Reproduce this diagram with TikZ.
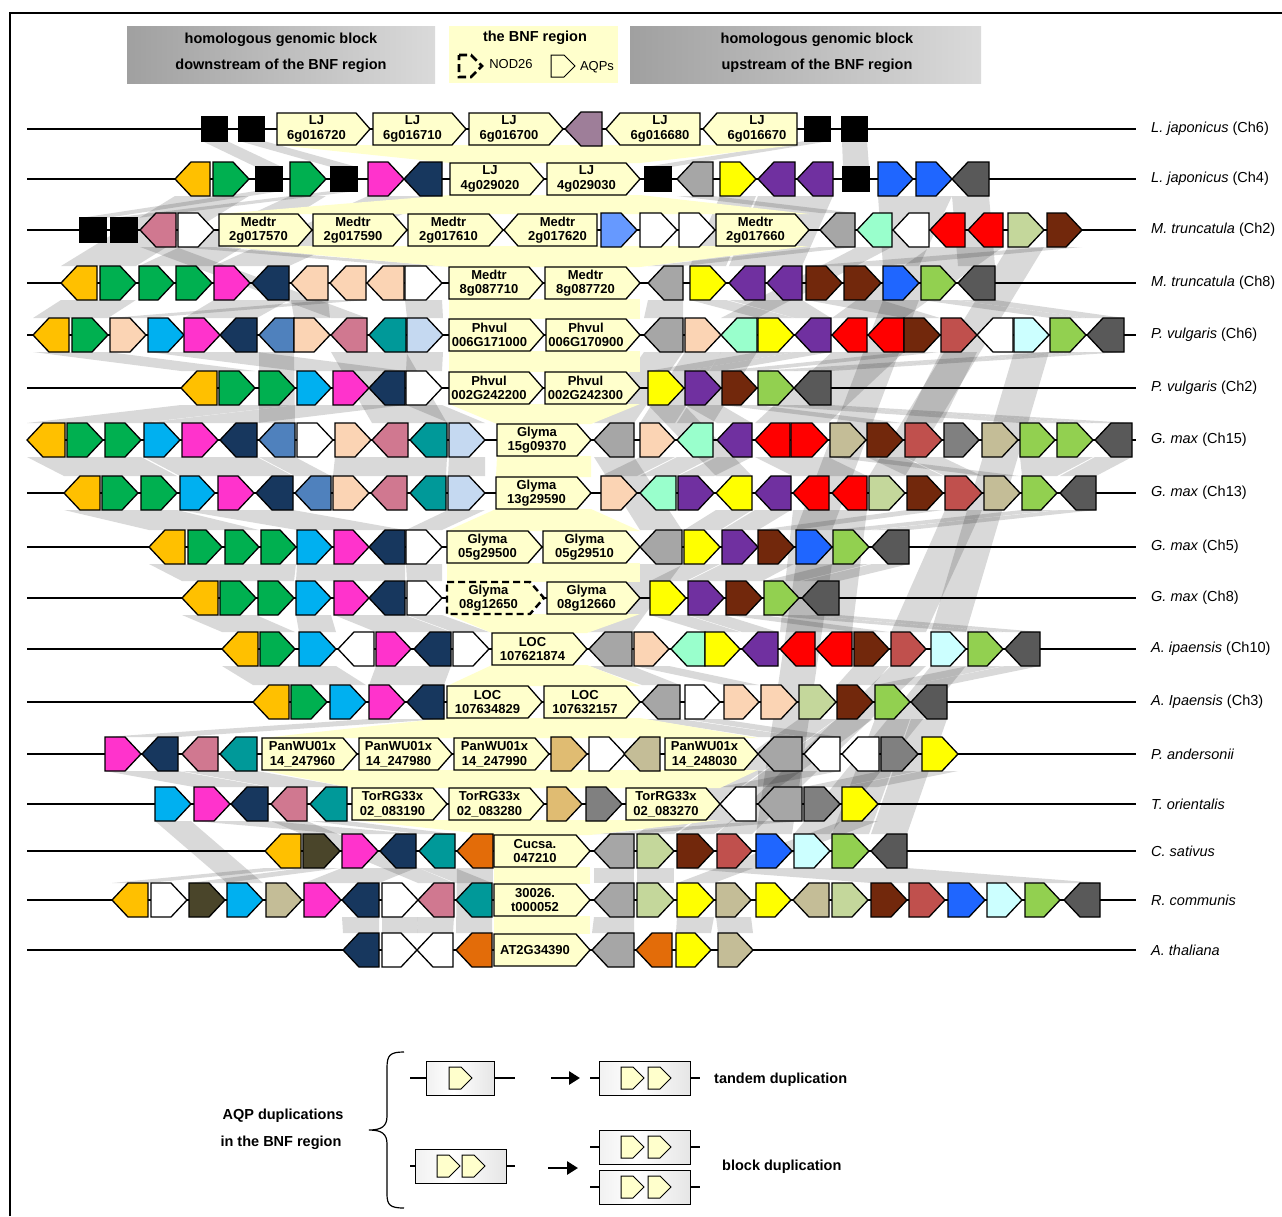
\documentclass[tikz,border=0pt]{standalone}
\usepackage{fontspec}
\setmainfont{Liberation Sans}
\usetikzlibrary{arrows.meta}
\definecolor{cOr}{HTML}{FFC000}
\definecolor{cGr}{HTML}{00B050}
\definecolor{cMg}{HTML}{FF33CC}
\definecolor{cNv}{HTML}{17375E}
\definecolor{cMv}{HTML}{9E7E99}
\definecolor{cGy}{HTML}{A6A6A6}
\definecolor{cYe}{HTML}{FFFF00}
\definecolor{cPu}{HTML}{7030A0}
\definecolor{cBl}{HTML}{1F66FF}
\definecolor{cDg}{HTML}{595959}
\definecolor{cPk}{HTML}{D07890}
\definecolor{cCb}{HTML}{6699FF}
\definecolor{cAq}{HTML}{99FFCC}
\definecolor{cRd}{HTML}{FF0000}
\definecolor{cOl}{HTML}{C4D79B}
\definecolor{cBr}{HTML}{72280C}
\definecolor{cPe}{HTML}{FBD4B4}
\definecolor{cLg}{HTML}{92D050}
\definecolor{cSk}{HTML}{00B0F0}
\definecolor{cSt}{HTML}{4F81BD}
\definecolor{cTe}{HTML}{009999}
\definecolor{cLb}{HTML}{C5D9F1}
\definecolor{cIr}{HTML}{C0504D}
\definecolor{cLc}{HTML}{CCFFFF}
\definecolor{cTa}{HTML}{C4BD97}
\definecolor{cGt}{HTML}{808080}
\definecolor{cSa}{HTML}{E0BC72}
\definecolor{cDo}{HTML}{4A452A}
\definecolor{cOt}{HTML}{E36C09}
\definecolor{bnf}{HTML}{FFFFCC}
\definecolor{hdrL}{HTML}{A0A0A0}
\definecolor{hdrR}{HTML}{DADADA}
\pgfdeclarehorizontalshading{cyl}{100bp}{color(0bp)=(gray!95); color(6bp)=(gray!70); color(18bp)=(gray!15); color(45bp)=(white); color(75bp)=(gray!20); color(88bp)=(gray!75); color(100bp)=(gray!95)}
\tikzset{
  gene/.style={draw=black, line width=1.3pt, line join=miter},
  chrom/.style={line width=2pt},
  band/.style={fill=black, fill opacity=0.15},
  labtxt/.style={font=\fontsize{13}{14.5}\selectfont\bfseries, align=center, inner sep=0pt},
  species/.style={anchor=west, font=\fontsize{14.5}{17}\selectfont, inner sep=0pt},
  hdr/.style={font=\fontsize{14.5}{17}\selectfont\bfseries, inner sep=0pt},
  smalltxt/.style={font=\fontsize{13}{15}\selectfont, inner sep=0pt},
  dupline/.style={line width=1.2pt},
  duparrow/.style={-{Triangle[length=11pt,width=13pt]}, line width=2.8pt}
}
\newcommand\geneR[3]{\draw[gene,fill=#3] (#1,\Y-17) -- (#2-16,\Y-17) -- (#2,\Y) -- (#2-16,\Y+17) -- (#1,\Y+17) -- cycle;}
\newcommand\geneL[3]{\draw[gene,fill=#3] (#2,\Y-17) -- (#1+16,\Y-17) -- (#1,\Y) -- (#1+16,\Y+17) -- (#2,\Y+17) -- cycle;}
\newcommand\blk[2]{\draw[gene,fill=black] (#1,\Y-12) rectangle (#2,\Y+12);}
\newcommand\labR[4]{\draw[gene,fill=bnf] (#1,\Y-16) -- (#2-14,\Y-16) -- (#2,\Y) -- (#2-14,\Y+16) -- (#1,\Y+16) -- cycle; \node[labtxt] (#3) at ({(#1+#2-14)/2},\Y) {#4};}
\newcommand\labL[4]{\draw[gene,fill=bnf] (#2,\Y-16) -- (#1+14,\Y-16) -- (#1,\Y) -- (#1+14,\Y+16) -- (#2,\Y+16) -- cycle; \node[labtxt] (#3) at ({(#1+14+#2)/2},\Y) {#4};}
\newcommand\labD[4]{\fill[bnf] (#1,\Y-16) -- (#2-14,\Y-16) -- (#2,\Y) -- (#2-14,\Y+16) -- (#1,\Y+16) -- cycle; \draw[line width=2.4pt, dash pattern=on 7pt off 4pt] (#1,\Y-16) -- (#2-14,\Y-16) -- (#2,\Y) -- (#2-14,\Y+16) -- (#1,\Y+16) -- cycle; \node[labtxt] (#3) at ({(#1+#2-14)/2},\Y) {#4};}
\newcommand\chromo[2]{\draw[chrom] (27,\Y) -- (1136,\Y); \node[species] (#1) at (1151,\Y) {#2};}
\newcommand\bandG[6]{\fill[band] (#2,#1+17) -- (#3,#1+17) -- (#6,#4-17) -- (#5,#4-17) -- cycle;}
\newcommand\bandY[6]{\fill[bnf] (#2,#1+16) -- (#3,#1+16) -- (#6,#4-16) -- (#5,#4-16) -- cycle;}
\newcommand\dupbox[3]{\shade[shading=cyl] (#1,#3-17) rectangle (#2,#3+17); \draw[line width=0.8pt] (#1,#3-17) rectangle (#2,#3+17);}
\newcommand\aqpicon[2]{\draw[line width=1pt, fill=bnf] (#1,#2-11) -- (#1+12,#2-11) -- (#1+23,#2) -- (#1+12,#2+11) -- (#1,#2+11) -- cycle;}
\begin{document}
\begin{tikzpicture}[x=1pt,y=-1pt]
\useasboundingbox (0,0) rectangle (1282,1216);
\fill[white] (0,0) rectangle (1282,1216);
% ---------------- grey synteny bands ----------------
\bandG{124}{202}{227}{184}{256}{282}
\bandG{124}{239}{264}{184}{331}{357}
\bandG{124}{805}{830}{184}{645}{671}
\bandG{124}{842}{867}{184}{843}{869}
\bandG{174}{256}{282}{235}{80}{106}
\bandG{174}{331}{357}{235}{111}{137}
\bandG{179}{677}{713}{230}{820}{855}
\bandG{179}{175}{249}{283}{61}{136}
\bandG{179}{290}{326}{283}{139}{212}
\bandG{179}{368}{442}{283}{214}{289}
\bandG{179}{720}{756}{283}{690}{726}
\bandG{179}{758}{833}{283}{729}{802}
\bandG{179}{878}{952}{283}{883}{919}
\bandG{179}{952}{989}{283}{958}{995}
\bandG{230}{178}{214}{283}{405}{442}
\bandG{230}{820}{855}{283}{648}{683}
\bandG{230}{1047}{1082}{283}{806}{881}
\bandG{230}{140}{176}{335}{331}{367}
\bandG{230}{857}{892}{335}{721}{757}
\bandG{230}{930}{1003}{335}{832}{904}
\bandG{230}{1008}{1044}{493}{869}{905}
\bandG{283}{61}{136}{335}{33}{108}
\bandG{283}{214}{289}{335}{184}{257}
\bandG{283}{291}{328}{335}{294}{330}
\bandG{283}{330}{366}{335}{110}{146}
\bandG{283}{405}{442}{335}{407}{443}
\bandG{283}{648}{683}{335}{644}{683}
\bandG{283}{690}{726}{335}{758}{794}
\bandG{283}{729}{802}{335}{795}{831}
\bandG{283}{806}{881}{335}{904}{940}
\bandG{283}{921}{956}{335}{1050}{1086}
\bandG{283}{958}{995}{335}{1087}{1124}
\bandG{283}{883}{919}{547}{796}{832}
\bandG{335}{33}{108}{388}{181}{255}
\bandG{335}{148}{257}{388}{297}{405}
\bandG{335}{407}{443}{388}{406}{442}
\bandG{335}{758}{794}{388}{648}{684}
\bandG{335}{795}{831}{388}{685}{721}
\bandG{335}{904}{940}{388}{722}{757}
\bandG{335}{1050}{1086}{388}{758}{794}
\bandG{335}{1087}{1124}{388}{794}{831}
\bandG{335}{259}{294}{440}{259}{295}
\bandG{335}{331}{406}{440}{372}{447}
\bandG{335}{644}{683}{440}{594}{634}
\bandG{335}{685}{721}{440}{640}{675}
\bandG{335}{721}{757}{440}{677}{713}
\bandG{335}{832}{904}{440}{755}{828}
\bandG{335}{941}{977}{440}{905}{942}
\bandG{335}{1014}{1049}{649}{931}{966}
\bandG{388}{181}{295}{440}{27}{141}
\bandG{388}{297}{405}{440}{144}{257}
\bandG{388}{406}{442}{440}{449}{485}
\bandG{388}{685}{721}{440}{717}{752}
\bandG{388}{722}{757}{440}{867}{903}
\bandG{388}{758}{794}{440}{1020}{1093}
\bandG{388}{794}{831}{440}{1095}{1132}
\bandG{388}{648}{684}{493}{716}{752}
\bandG{440}{27}{141}{493}{64}{177}
\bandG{440}{144}{257}{493}{180}{293}
\bandG{440}{259}{295}{493}{295}{331}
\bandG{440}{335}{447}{493}{333}{446}
\bandG{440}{449}{485}{493}{448}{485}
\bandG{440}{640}{675}{493}{601}{637}
\bandG{440}{677}{713}{493}{640}{676}
\bandG{440}{717}{752}{493}{678}{714}
\bandG{440}{755}{828}{493}{793}{867}
\bandG{440}{830}{866}{493}{984}{1020}
\bandG{440}{867}{903}{493}{907}{943}
\bandG{440}{905}{942}{493}{945}{982}
\bandG{440}{1020}{1093}{493}{1022}{1057}
\bandG{440}{1095}{1132}{493}{1060}{1096}
\bandG{440}{594}{634}{547}{640}{682}
\bandG{493}{64}{177}{547}{149}{259}
\bandG{493}{180}{293}{547}{297}{405}
\bandG{493}{448}{485}{547}{406}{442}
\bandG{493}{716}{752}{547}{684}{720}
\bandG{493}{755}{791}{547}{722}{758}
\bandG{493}{907}{943}{547}{758}{794}
\bandG{493}{1022}{1057}{547}{833}{869}
\bandG{493}{1060}{1096}{547}{872}{909}
\bandG{493}{793}{867}{649}{780}{852}
\bandG{493}{945}{982}{649}{891}{926}
\bandG{547}{149}{296}{598}{182}{294}
\bandG{547}{297}{405}{598}{296}{405}
\bandG{547}{406}{442}{598}{407}{442}
\bandG{547}{684}{720}{598}{650}{686}
\bandG{547}{722}{794}{598}{688}{762}
\bandG{547}{833}{869}{598}{764}{799}
\bandG{547}{872}{909}{598}{802}{839}
\bandG{547}{640}{682}{649}{589}{632}
\bandG{547}{796}{832}{851}{756}{792}
\bandG{598}{182}{256}{649}{222}{295}
\bandG{598}{296}{331}{649}{299}{336}
\bandG{598}{334}{405}{649}{376}{451}
\bandG{598}{407}{442}{649}{453}{489}
\bandG{598}{650}{686}{649}{705}{740}
\bandG{598}{688}{724}{649}{742}{778}
\bandG{598}{726}{762}{649}{854}{889}
\bandG{598}{764}{799}{649}{968}{1003}
\bandG{598}{802}{839}{649}{1005}{1040}
\bandG{649}{222}{336}{702}{253}{366}
\bandG{649}{376}{451}{702}{369}{444}
\bandG{649}{589}{632}{702}{642}{680}
\bandG{649}{634}{669}{702}{724}{759}
\bandG{649}{854}{889}{702}{837}{873}
\bandG{649}{968}{1003}{702}{875}{910}
\bandG{649}{1005}{1040}{702}{911}{947}
\bandG{649}{891}{926}{851}{717}{752}
\bandG{649}{931}{966}{851}{794}{830}
\bandG{702}{369}{444}{754}{105}{178}
\bandG{702}{642}{680}{754}{758}{802}
\bandG{702}{685}{720}{754}{804}{840}
\bandG{702}{799}{836}{851}{637}{674}
\bandG{702}{837}{873}{851}{677}{714}
\bandG{702}{875}{910}{851}{832}{869}
\bandG{702}{911}{947}{851}{871}{907}
\bandG{754}{105}{178}{804}{194}{268}
\bandG{754}{182}{257}{804}{271}{347}
\bandG{754}{551}{587}{804}{547}{582}
\bandG{754}{758}{802}{804}{758}{802}
\bandG{754}{804}{840}{804}{720}{756}
\bandG{754}{881}{918}{804}{804}{840}
\bandG{754}{922}{958}{804}{842}{878}
\bandG{804}{194}{268}{851}{342}{416}
\bandG{804}{310}{347}{851}{419}{455}
\bandG{804}{758}{802}{851}{594}{634}
\bandG{804}{155}{191}{900}{227}{263}
\bandG{804}{842}{878}{900}{677}{714}
\bandG{804}{271}{307}{900}{418}{454}
\bandG{851}{265}{301}{900}{112}{148}
\bandG{851}{303}{340}{900}{189}{225}
\bandG{851}{342}{416}{900}{304}{379}
\bandG{851}{419}{455}{900}{456}{492}
\bandG{851}{594}{634}{900}{594}{634}
\bandG{851}{637}{674}{900}{637}{674}
\bandG{851}{677}{907}{900}{871}{1100}
\bandG{851}{457}{493}{950}{456}{492}
\bandG{900}{342}{379}{950}{343}{379}
\bandG{900}{382}{418}{950}{382}{417}
\bandG{900}{418}{454}{950}{417}{453}
\bandG{900}{594}{634}{950}{592}{634}
\bandG{900}{677}{714}{950}{676}{711}
\bandG{900}{716}{751}{950}{718}{753}
% ---------------- BNF region ----------------
\bandY{129}{277}{797}{179}{450}{640}
\bandY{179}{450}{640}{230}{219}{809}
\bandY{230}{219}{809}{283}{449}{640}
\bandY{283}{449}{640}{335}{449}{640}
\bandY{335}{449}{640}{388}{449}{640}
\bandY{388}{449}{640}{440}{497}{591}
\bandY{440}{497}{591}{493}{496}{591}
\bandY{493}{496}{591}{547}{447}{640}
\bandY{547}{447}{640}{598}{447}{640}
\bandY{598}{447}{640}{649}{492}{587}
\bandY{649}{492}{587}{702}{447}{640}
\bandY{702}{447}{640}{754}{262}{758}
\bandY{754}{262}{758}{804}{352}{720}
\bandY{804}{352}{720}{851}{494}{590}
\bandY{851}{494}{590}{900}{494}{590}
\bandY{900}{494}{590}{950}{494}{590}
% ---------------- frame ----------------
\draw[line width=1.3pt] (10,1216) -- (10,13) -- (1282,13);
% ---------------- header ----------------
\shade[left color=hdrL, right color=hdrR] (127,26) rectangle (435,83);
\node[hdr] (h1) at (281,40) {homologous genomic block};
\node[hdr] (h2) at (281,66) {downstream of the BNF region};
\fill[bnf] (449,26) rectangle (618,83);
\node[hdr] (h3) at (535,38) {the BNF region};
\draw[line width=2.6pt, dash pattern=on 8pt off 4pt] (459,55) -- (471,55) -- (482,66) -- (471,77) -- (459,77) -- cycle;
\node[smalltxt] (h4) at (511,64) {NOD26};
\draw[line width=1pt] (551,55) -- (564,55) -- (575,66) -- (564,77) -- (551,77) -- cycle;
\node[smalltxt] (h5) at (597,67) {AQPs};
\shade[left color=hdrL, right color=hdrR] (630,26) rectangle (981,83);
\node[hdr] (h6) at (817,40) {homologous genomic block};
\node[hdr] (h7) at (817,66) {upstream of the BNF region};
% ---------------- rows ----------------
\def\Y{129}
\chromo{sp1}{\textit{L. japonicus} (Ch6)}
\blk{202}{227}\blk{239}{264}
\labR{277}{370}{g1a}{LJ\\6g016720}
\labR{373}{466}{g1b}{LJ\\6g016710}
\labR{469}{563}{g1c}{LJ\\6g016700}
\geneL{565}{602}{cMv}
\labL{606}{700}{g1d}{LJ\\6g016680}
\labL{703}{797}{g1e}{LJ\\6g016670}
\blk{805}{830}\blk{842}{867}
\def\Y{179}
\chromo{sp2}{\textit{L. japonicus} (Ch4)}
\geneL{175}{210}{cOr}\geneR{213}{249}{cGr}\blk{256}{282}\geneR{290}{326}{cGr}\blk{331}{357}\geneR{368}{404}{cMg}\geneL{404}{442}{cNv}
\labR{450}{544}{g2a}{LJ\\4g029020}
\labR{547}{640}{g2b}{LJ\\4g029030}
\blk{645}{671}\geneL{677}{713}{cGy}\geneR{720}{756}{cYe}\geneL{758}{795}{cPu}\geneL{797}{833}{cPu}\blk{843}{869}\geneR{878}{913}{cBl}\geneR{916}{952}{cBl}\geneL{952}{989}{cDg}
\def\Y{230}
\chromo{sp3}{\textit{M. truncatula} (Ch2)}
\blk{80}{106}\blk{111}{137}\geneL{140}{176}{cPk}\geneR{178}{214}{white}
\labR{219}{312}{g3a}{Medtr\\2g017570}
\labR{313}{407}{g3b}{Medtr\\2g017590}
\labR{408}{503}{g3c}{Medtr\\2g017610}
\labL{504}{597}{g3d}{Medtr\\2g017620}
\geneR{601}{637}{cCb}\geneR{640}{677}{white}\geneR{679}{715}{white}
\labR{716}{809}{g3e}{Medtr\\2g017660}
\geneL{820}{855}{cGy}\geneL{857}{892}{cAq}\geneL{893}{929}{white}\geneL{930}{965}{cRd}\geneL{968}{1003}{cRd}\geneR{1008}{1044}{cOl}\geneR{1047}{1082}{cBr}
\def\Y{283}
\chromo{sp4}{\textit{M. truncatula} (Ch8)}
\geneL{61}{97}{cOr}\geneR{100}{136}{cGr}\geneR{139}{174}{cGr}\geneR{176}{212}{cGr}\geneR{214}{250}{cMg}\geneL{252}{289}{cNv}\geneL{291}{328}{cPe}\geneL{330}{366}{cPe}\geneL{367}{404}{cPe}\geneR{405}{442}{white}
\labR{449}{543}{g4a}{Medtr\\8g087710}
\labR{545}{640}{g4b}{Medtr\\8g087720}
\geneL{648}{683}{cGy}\geneR{690}{726}{cYe}\geneL{729}{765}{cPu}\geneL{767}{802}{cPu}\geneR{806}{842}{cBr}\geneR{844}{881}{cBr}\geneR{883}{919}{cBl}\geneR{921}{956}{cLg}\geneL{958}{995}{cDg}
\def\Y{335}
\chromo{sp5}{\textit{P. vulgaris} (Ch6)}
\geneL{33}{69}{cOr}\geneR{72}{108}{cGr}\geneR{110}{146}{cPe}\geneR{148}{184}{cSk}\geneR{184}{220}{cMg}\geneL{220}{257}{cNv}\geneL{259}{294}{cSt}\geneR{294}{330}{cPe}\geneL{331}{367}{cPk}\geneL{369}{406}{cTe}\geneR{407}{443}{cLb}
\labR{449}{544}{g5a}{Phvul\\006G171000}
\labR{546}{640}{g5b}{Phvul\\006G170900}
\geneL{644}{683}{cGy}\geneR{685}{721}{cPe}\geneL{721}{757}{cAq}\geneR{758}{794}{cYe}\geneL{795}{831}{cPu}\geneL{832}{867}{cRd}\geneL{868}{904}{cRd}\geneR{904}{940}{cBr}\geneR{941}{977}{cIr}\geneL{977}{1013}{white}\geneR{1014}{1049}{cLc}\geneR{1050}{1086}{cLg}\geneL{1087}{1124}{cDg}
\def\Y{388}
\chromo{sp6}{\textit{P. vulgaris} (Ch2)}
\geneL{181}{217}{cOr}\geneR{219}{255}{cGr}\geneR{259}{295}{cGr}\geneR{297}{331}{cSk}\geneR{333}{369}{cMg}\geneL{369}{405}{cNv}\geneR{406}{442}{white}
\labR{449}{543}{g6a}{Phvul\\002G242200}
\labR{545}{640}{g6b}{Phvul\\002G242300}
\geneR{648}{684}{cYe}\geneR{685}{721}{cPu}\geneR{722}{757}{cBr}\geneR{758}{794}{cLg}\geneL{794}{831}{cDg}
\def\Y{440}
\chromo{sp7}{\textit{G. max} (Ch15)}
\geneL{27}{65}{cOr}\geneR{67}{103}{cGr}\geneR{105}{141}{cGr}\geneR{144}{180}{cSk}\geneR{182}{218}{cMg}\geneL{220}{257}{cNv}\geneL{259}{295}{cSt}\geneR{297}{333}{white}\geneR{335}{371}{cPe}\geneL{372}{408}{cPk}\geneL{410}{447}{cTe}\geneR{449}{485}{cLb}
\labR{497}{591}{g7a}{Glyma\\15g09370}
\geneL{594}{634}{cGy}\geneR{640}{675}{cPe}\geneL{677}{713}{cAq}\geneL{717}{752}{cPu}\geneL{755}{790}{cRd}\geneR{791}{828}{cRd}\geneR{830}{866}{cTa}\geneR{867}{903}{cBr}\geneR{905}{942}{cIr}\geneR{944}{979}{cGt}\geneR{982}{1018}{cTa}\geneR{1020}{1055}{cLg}\geneR{1057}{1093}{cLg}\geneL{1095}{1132}{cDg}
\def\Y{493}
\chromo{sp8}{\textit{G. max} (Ch13)}
\geneL{64}{100}{cOr}\geneR{102}{138}{cGr}\geneR{141}{177}{cGr}\geneR{180}{215}{cSk}\geneR{218}{254}{cMg}\geneL{256}{293}{cNv}\geneL{295}{331}{cSt}\geneR{333}{369}{cPe}\geneL{371}{407}{cPk}\geneL{410}{446}{cTe}\geneR{448}{485}{cLb}
\labR{496}{591}{g8a}{Glyma\\13g29590}
\geneR{601}{637}{cPe}\geneL{640}{676}{cAq}\geneR{678}{714}{cPu}\geneL{716}{752}{cYe}\geneL{755}{791}{cPu}\geneL{793}{829}{cRd}\geneL{832}{867}{cRd}\geneR{869}{905}{cOl}\geneR{907}{943}{cBr}\geneR{945}{982}{cIr}\geneR{984}{1020}{cTa}\geneR{1022}{1057}{cLg}\geneL{1060}{1096}{cDg}
\def\Y{547}
\chromo{sp9}{\textit{G. max} (Ch5)}
\geneL{149}{185}{cOr}\geneR{188}{222}{cGr}\geneR{225}{259}{cGr}\geneR{261}{296}{cGr}\geneR{297}{332}{cSk}\geneR{334}{369}{cMg}\geneL{369}{405}{cNv}\geneR{406}{442}{white}
\labR{447}{542}{g9a}{Glyma\\05g29500}
\labR{543}{640}{g9b}{Glyma\\05g29510}
\geneL{640}{682}{cGy}\geneR{684}{720}{cYe}\geneR{722}{758}{cPu}\geneR{758}{794}{cBr}\geneR{796}{832}{cBl}\geneR{833}{869}{cLg}\geneL{872}{909}{cDg}
\def\Y{598}
\chromo{sp10}{\textit{G. max} (Ch8)}
\geneL{182}{218}{cOr}\geneR{220}{256}{cGr}\geneR{258}{294}{cGr}\geneR{296}{331}{cSk}\geneR{334}{369}{cMg}\geneL{369}{405}{cNv}\geneR{407}{442}{white}
\labD{447}{544}{g10a}{Glyma\\08g12650}
\labR{547}{640}{g10b}{Glyma\\08g12660}
\geneR{650}{686}{cYe}\geneR{688}{724}{cPu}\geneR{726}{762}{cBr}\geneR{764}{799}{cLg}\geneL{802}{839}{cDg}
\def\Y{649}
\chromo{sp11}{\textit{A. ipaensis} (Ch10)}
\geneL{222}{258}{cOr}\geneR{260}{295}{cGr}\geneR{299}{336}{cSk}\geneL{338}{374}{white}\geneR{376}{411}{cMg}\geneL{414}{451}{cNv}\geneR{453}{489}{white}
\labR{492}{587}{g11a}{LOC\\107621874}
\geneL{589}{632}{cGy}\geneR{634}{669}{cPe}\geneL{671}{705}{cAq}\geneR{705}{740}{cYe}\geneL{742}{778}{cPu}\geneL{780}{815}{cRd}\geneL{816}{852}{cRd}\geneR{854}{889}{cBr}\geneR{891}{926}{cIr}\geneR{931}{966}{cLc}\geneR{968}{1003}{cLg}\geneL{1005}{1040}{cDg}
\def\Y{702}
\chromo{sp12}{\textit{A. Ipaensis} (Ch3)}
\geneL{253}{289}{cOr}\geneR{291}{327}{cGr}\geneR{330}{366}{cSk}\geneR{369}{405}{cMg}\geneL{407}{444}{cNv}
\labR{447}{542}{g12a}{LOC\\107634829}
\labR{544}{640}{g12b}{LOC\\107632157}
\geneL{642}{680}{cGy}\geneR{685}{720}{white}\geneR{724}{759}{cPe}\geneR{761}{797}{cPe}\geneR{799}{836}{cOl}\geneR{837}{873}{cBr}\geneR{875}{910}{cLg}\geneL{911}{947}{cDg}
\def\Y{754}
\chromo{sp13}{\textit{P. andersonii}}
\geneR{105}{141}{cMg}\geneL{142}{178}{cNv}\geneL{182}{218}{cPk}\geneL{220}{257}{cTe}
\labR{262}{357}{g13a}{PanWU01x\\14\_247960}
\labR{359}{452}{g13b}{PanWU01x\\14\_247980}
\labR{454}{549}{g13c}{PanWU01x\\14\_247990}
\geneR{551}{587}{cSa}\geneR{589}{625}{white}\geneL{624}{660}{cTa}
\labR{665}{758}{g13d}{PanWU01x\\14\_248030}
\geneL{758}{802}{cGy}\geneL{804}{840}{white}\geneL{842}{879}{white}\geneR{881}{918}{cGt}\geneR{922}{958}{cYe}
\def\Y{804}
\chromo{sp14}{\textit{T. orientalis}}
\geneR{155}{191}{cSk}\geneR{194}{230}{cMg}\geneL{231}{268}{cNv}\geneL{271}{307}{cPk}\geneL{310}{347}{cTe}
\labR{352}{447}{g14a}{TorRG33x\\02\_083190}
\labR{449}{544}{g14b}{TorRG33x\\02\_083280}
\geneR{547}{582}{cSa}\geneR{586}{622}{cGt}
\labR{626}{720}{g14c}{TorRG33x\\02\_083270}
\geneL{720}{756}{white}\geneL{758}{802}{cGy}\geneR{804}{840}{cGt}\geneR{842}{878}{cYe}
\def\Y{851}
\chromo{sp15}{\textit{C. sativus}}
\geneL{265}{301}{cOr}\geneR{303}{340}{cDo}\geneR{342}{378}{cMg}\geneL{380}{416}{cNv}\geneL{419}{455}{cTe}\geneL{457}{493}{cOt}
\labR{494}{590}{g15a}{Cucsa.\\047210}
\geneL{594}{634}{cGy}\geneR{637}{674}{cOl}\geneR{677}{714}{cBr}\geneR{717}{752}{cIr}\geneR{756}{792}{cBl}\geneR{794}{830}{cLc}\geneR{832}{869}{cLg}\geneL{871}{907}{cDg}
\def\Y{900}
\chromo{sp16}{\textit{R. communis}}
\geneL{112}{148}{cOr}\geneR{151}{187}{white}\geneR{189}{225}{cDo}\geneR{227}{263}{cSk}\geneR{266}{302}{cTa}\geneR{304}{341}{cMg}\geneL{342}{379}{cNv}\geneR{382}{418}{white}\geneL{418}{454}{cPk}\geneL{456}{492}{cTe}
\labR{494}{590}{g16a}{30026.\\t000052}
\geneL{594}{634}{cGy}\geneR{637}{674}{cOl}\geneR{677}{714}{cYe}\geneR{716}{751}{cTa}\geneR{756}{791}{cYe}\geneL{793}{829}{cTa}\geneR{832}{868}{cOl}\geneR{871}{907}{cBr}\geneR{909}{945}{cIr}\geneR{948}{985}{cBl}\geneR{987}{1022}{cLc}\geneR{1025}{1060}{cLg}\geneL{1064}{1100}{cDg}
\def\Y{950}
\chromo{sp17}{\textit{A. thaliana}}
\geneL{343}{379}{cNv}\geneR{382}{417}{white}\geneL{417}{453}{white}\geneL{456}{492}{cOt}
\labR{494}{590}{g17a}{AT2G34390}
\geneL{592}{634}{cGy}\geneL{636}{672}{cOt}\geneR{676}{711}{cYe}\geneR{718}{753}{cTa}
% ---------------- legend ----------------
\node[hdr] (t1) at (283,1116) {AQP duplications};
\node[hdr] (t2) at (281,1143) {in the BNF region};
\draw[line width=1.2pt] (404,1052) .. controls (390,1052) and (387,1055) .. (387,1068) -- (387,1116) .. controls (387,1126) and (382,1130) .. (369,1130) .. controls (382,1130) and (387,1134) .. (387,1144) -- (387,1194) .. controls (387,1205) and (390,1208) .. (404,1208);
% tandem
\draw[dupline] (410,1078) -- (515,1078);
\dupbox{426}{494}{1078}
\aqpicon{449}{1078}
\coordinate (a1s) at (551,1078);
\coordinate (a1e) at (580,1078);
\draw[duparrow] (a1s) -- (a1e);
\draw[dupline] (590,1078) -- (700,1078);
\dupbox{599}{690}{1078}
\aqpicon{621}{1078}\aqpicon{648}{1078}
\node[hdr, anchor=west] (t3) at (714,1080) {tandem duplication};
% block
\draw[dupline] (410,1166) -- (515,1166);
\dupbox{415}{506}{1166}
\aqpicon{437}{1166}\aqpicon{462}{1166}
\coordinate (a2s) at (548,1168);
\coordinate (a2e) at (578,1168);
\draw[duparrow] (a2s) -- (a2e);
\draw[dupline] (590,1147) -- (700,1147);
\dupbox{599}{690}{1147}
\aqpicon{621}{1147}\aqpicon{648}{1147}
\draw[dupline] (590,1187) -- (700,1187);
\dupbox{599}{690}{1187}
\aqpicon{621}{1187}\aqpicon{648}{1187}
\node[hdr, anchor=west] (t4) at (722,1167) {block duplication};
\end{tikzpicture}
\end{document}
